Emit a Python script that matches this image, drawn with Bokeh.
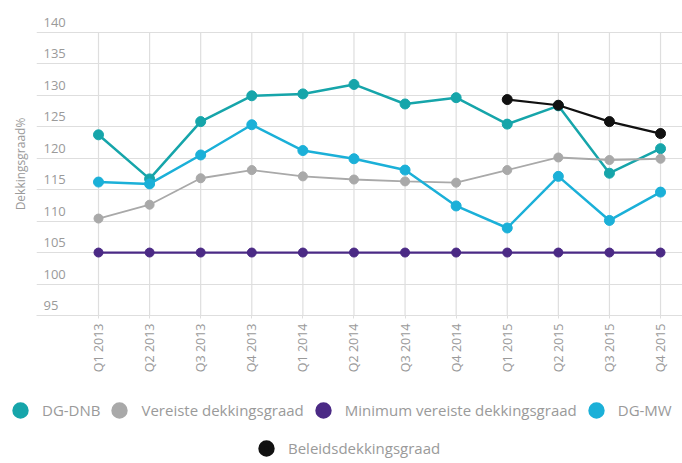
import math
import numpy as np
from bokeh.plotting import figure
from bokeh.layouts import column
from bokeh.models import FixedTicker, Legend, LegendItem, Range1d, ColumnDataSource
from bokeh.core.properties import value
from bokeh.embed import file_html
from bokeh.resources import INLINE

quarters = ["Q1 2013", "Q2 2013", "Q3 2013", "Q4 2013",
            "Q1 2014", "Q2 2014", "Q3 2014", "Q4 2014",
            "Q1 2015", "Q2 2015", "Q3 2015", "Q4 2015"]
dg_dnb = [123.7, 116.7, 125.8, 129.9, 130.2, 131.7, 128.6, 129.6, 125.4, 128.3, 117.6, 121.5]
vereiste = [110.4, 112.6, 116.8, 118.1, 117.1, 116.6, 116.3, 116.1, 118.1, 120.1, 119.7, 119.9]
minimum = [105.0] * 12
dg_mw = [116.2, 115.9, 120.5, 125.3, 121.2, 119.9, 118.1, 112.4, 108.9, 117.1, 110.1, 114.6]
beleids = [np.nan] * 8 + [129.3, 128.4, 125.8, 123.9]
y_ticks = [95, 100, 105, 110, 115, 120, 125, 130, 135, 140]

series_names = ["DG-DNB", "Vereiste dekkingsgraad", "Minimum vereiste dekkingsgraad",
                "DG-MW", "Beleidsdekkingsgraad"]
series_values = [dg_dnb, vereiste, minimum, dg_mw, beleids]
colors = ["#16a5aa", "#a9a9a9", "#4b2a85", "#1bb0d8", "#111111"]
line_widths = [2.5, 1.8, 2.2, 2.5, 2.2]
marker_sizes = [10, 9, 9, 10, 10]

FONT = "Open Sans"
TEXT_COLOR = "#9a9a9a"
GRID_COLOR = "#dedede"

x_idx = list(range(len(quarters)))
X_LO, X_HI = -1.2135, 11.43
Y_LO, Y_HI = 95, 143.13

p = figure(width=682, height=375, output_backend="svg", toolbar_location=None,
           x_range=Range1d(X_LO, X_HI), y_range=Range1d(Y_LO, Y_HI),
           min_border_left=36, min_border_right=0, min_border_top=12, min_border_bottom=60)
p.outline_line_color = None
p.background_fill_color = "white"
p.border_fill_color = "white"
p.frame_align = False

# x axis
p.xaxis.ticker = FixedTicker(ticks=x_idx)
p.xaxis.major_label_overrides = {i: q for i, q in zip(x_idx, quarters)}
p.xaxis.major_label_orientation = math.pi / 2
p.xaxis.major_label_text_font = FONT
p.xaxis.major_label_text_font_size = "12.5px"
p.xaxis.major_label_text_color = TEXT_COLOR
p.xaxis.major_label_standoff = 5
p.xaxis.major_tick_out = 3
p.xaxis.major_tick_in = 0
p.xaxis.major_tick_line_color = GRID_COLOR
p.xaxis.minor_tick_line_color = None
p.xaxis.axis_line_color = GRID_COLOR

# y axis (title only, tick labels drawn inside the plot area)
p.yaxis.ticker = FixedTicker(ticks=[])
p.yaxis.axis_label = "Dekkingsgraad%"
p.yaxis.axis_label_text_font = FONT
p.yaxis.axis_label_text_font_style = "normal"
p.yaxis.axis_label_text_font_size = "12px"
p.yaxis.axis_label_text_color = TEXT_COLOR
p.yaxis.axis_label_standoff = 8
p.yaxis.axis_line_color = None
p.yaxis.major_tick_line_color = None
p.yaxis.minor_tick_line_color = None
p.yaxis.major_label_standoff = 0

p.xgrid.grid_line_color = None
p.ygrid.ticker = FixedTicker(ticks=y_ticks)
p.ygrid.grid_line_color = GRID_COLOR
p.ygrid.grid_line_width = 1.2

# vertical grid lines from bottom to top tick
p.segment(x0=x_idx, y0=[y_ticks[0]] * len(x_idx), x1=x_idx, y1=[y_ticks[-1]] * len(x_idx),
          line_color=GRID_COLOR, line_width=1.2)

# y tick labels (sit just above their grid lines, inside the plot area)
p.text(x=[X_LO] * len(y_ticks), y=y_ticks, text=[str(t) for t in y_ticks],
       x_offset=7, y_offset=-10, text_align="left", text_baseline="alphabetic",
       text_font=value(FONT), text_font_size="13px", text_color=TEXT_COLOR)

for name, vals, c, lw, ms in zip(series_names, series_values, colors, line_widths, marker_sizes):
    src = ColumnDataSource(dict(x=x_idx, y=vals))
    p.line("x", "y", source=src, line_color=c, line_width=lw)
    p.scatter("x", "y", source=src, size=ms, fill_color=c, line_color=c, line_width=1)

# legend strip below the chart
lg_fig = figure(width=682, height=88, output_backend="svg", toolbar_location=None,
                x_range=Range1d(X_LO, X_HI), y_range=Range1d(Y_LO, Y_HI),
                x_axis_type=None, y_axis_type=None,
                min_border_left=0, min_border_right=0, min_border_top=0, min_border_bottom=0)
lg_fig.outline_line_color = None
lg_fig.xgrid.grid_line_color = None
lg_fig.ygrid.grid_line_color = None
lg_fig.frame_align = False

legend_renderers = []
for name, vals, c, ms in zip(series_names, series_values, colors, marker_sizes):
    src = ColumnDataSource(dict(x=x_idx, y=vals))
    lr = lg_fig.scatter("x", "y", source=src, size=ms, fill_color=c, line_color=c,
                        line_width=6, visible=False)
    legend_renderers.append(lr)

items1 = [LegendItem(label=n, renderers=[r]) for n, r in zip(series_names[:4], legend_renderers[:4])]
items2 = [LegendItem(label=series_names[4], renderers=[legend_renderers[4]])]

def make_legend(items, loc):
    return Legend(items=items, orientation="horizontal", location=loc,
                  glyph_width=26, glyph_height=26, label_height=26,
                  label_standoff=9, spacing=6, padding=0, margin=0,
                  label_text_font=FONT, label_text_font_size="15px",
                  label_text_color=TEXT_COLOR, border_line_color=None,
                  background_fill_alpha=0)

lg_fig.add_layout(make_legend(items1, (7, 40)), "center")
lg_fig.add_layout(make_legend(items2, (253, 2)), "center")

layout = column(p, lg_fig, spacing=0)
open("out.html", "w").write(file_html(layout, INLINE))
